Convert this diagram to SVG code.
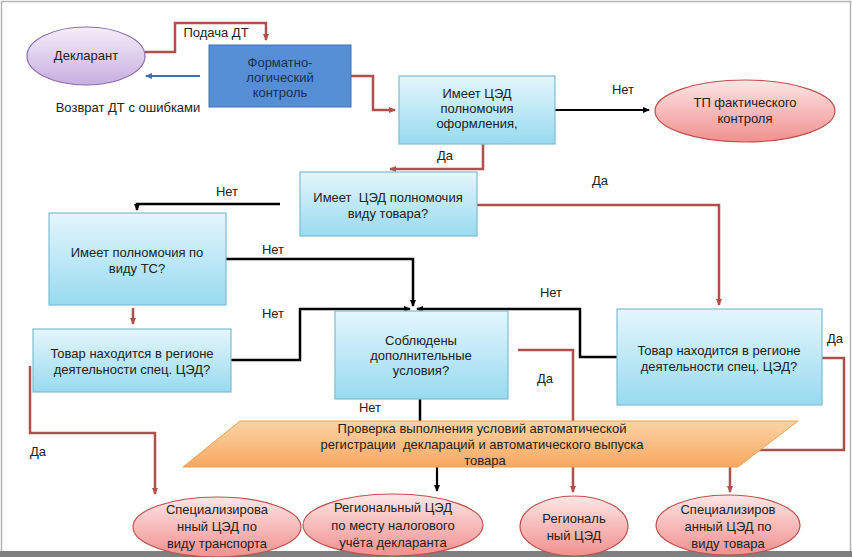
<svg xmlns="http://www.w3.org/2000/svg" width="852" height="557" viewBox="0 0 852 557">
<defs>
<linearGradient id="gBox" x1="0" y1="0" x2="0" y2="1"><stop offset="0" stop-color="#e4f6fc"/><stop offset="1" stop-color="#98daf0"/></linearGradient>
<linearGradient id="gPink" x1="0" y1="0" x2="0" y2="1"><stop offset="0" stop-color="#fde6e6"/><stop offset="1" stop-color="#f1908e"/></linearGradient>
<linearGradient id="gLav" x1="0" y1="0" x2="0" y2="1"><stop offset="0" stop-color="#f6eefa"/><stop offset="1" stop-color="#c7aee0"/></linearGradient>
<linearGradient id="gOr" x1="0" y1="0" x2="0" y2="1"><stop offset="0" stop-color="#fcd3a6"/><stop offset="1" stop-color="#f8a860"/></linearGradient>
<marker id="aR" markerWidth="8" markerHeight="8" refX="6" refY="4" orient="auto" markerUnits="userSpaceOnUse"><path d="M0,1 L7,4 L0,7 z" fill="#b0504c"/></marker>
<marker id="aK" markerWidth="8" markerHeight="8" refX="6" refY="4" orient="auto" markerUnits="userSpaceOnUse"><path d="M0,1 L7,4 L0,7 z" fill="#000"/></marker>
<marker id="aB" markerWidth="8" markerHeight="8" refX="6" refY="4" orient="auto" markerUnits="userSpaceOnUse"><path d="M0,1 L7,4 L0,7 z" fill="#3f6fb5"/></marker>
</defs>
<style>
text{font-family:"Liberation Sans",Arial,sans-serif;font-size:13px;fill:#222;text-anchor:middle;white-space:pre}
.box{fill:url(#gBox);stroke:#7dbdd2;stroke-width:1.2}
.pink{fill:url(#gPink);stroke:#c0504d;stroke-width:1.2}
.red{fill:none;stroke:#b0504c;stroke-width:2.5}
.blk{fill:none;stroke:#000;stroke-width:2.5}
.lbl{text-anchor:start}
</style>
<rect x="0" y="0" width="852" height="557" fill="#fff"/>
<rect x="1.5" y="1.5" width="849" height="552" fill="none" stroke="#b4b4b4" stroke-width="1.5"/>
<rect x="0" y="551" width="852" height="6" fill="#7f7f7f"/>

<g id="connectors">
<path class="red" d="M145,52 H175 V23 H266 V40" marker-end="url(#aR)"/>
<path d="M200,76 H146" fill="none" stroke="#3f6fb5" stroke-width="2" marker-end="url(#aB)"/>
<path class="red" d="M351,76 H373 V110 H395" marker-end="url(#aR)"/>
<path d="M555,110 H649" fill="none" stroke="#000" stroke-width="2.2" marker-end="url(#aK)"/>
<path class="red" d="M483,144 V169 H390" marker-end="url(#aR)"/>
<path class="red" d="M477,205 H719 V305" marker-end="url(#aR)"/>
<path class="blk" d="M280,204 H137 V210" marker-end="url(#aK)"/>
<path class="blk" d="M226,259 H413 V306" marker-end="url(#aK)"/>
<path class="red" d="M133,308 V324" marker-end="url(#aR)"/>
<path class="blk" d="M231,360 H300 V309 H410" marker-end="url(#aK)"/>
<path class="blk" d="M617,357 H580 V309 H417" marker-end="url(#aK)"/>
<path class="red" d="M822,358 H844 V450 H730 V492" marker-end="url(#aR)"/>
<path class="red" d="M518,350 H573 V492" marker-end="url(#aR)"/>
<path class="red" d="M30,366 V433 H155 V494" marker-end="url(#aR)"/>
<path class="blk" d="M420,399 V423"/>
<path d="M437,467 V491" fill="none" stroke="#000" stroke-width="2.2" marker-end="url(#aK)"/>
</g>

<g id="labels">
<text x="216" y="37">Подача ДТ</text>
<text x="128" y="112">Возврат ДТ с ошибками</text>
<text x="623" y="94">Нет</text>
<text x="445" y="160">Да</text>
<text x="600" y="185">Да</text>
<text x="227" y="196">Нет</text>
<text x="273" y="254">Нет</text>
<text x="273" y="318">Нет</text>
<text x="551" y="297">Нет</text>
<text x="545" y="383">Да</text>
<text x="835" y="343">Да</text>
<text x="370" y="412">Нет</text>
<text x="38" y="456">Да</text>
</g>

<g id="declarant">
<ellipse cx="86" cy="56" rx="59" ry="29" fill="url(#gLav)" stroke="#8b6fae" stroke-width="1.2"/>
<text x="86" y="60">Декларант</text>
</g>

<g id="flk">
<rect x="209" y="45" width="142" height="62" fill="#558ed5" stroke="#4472b0" stroke-width="1"/>
<text x="280" y="67" style="fill:#1c2f52">Форматно-</text>
<text x="280" y="82" style="fill:#1c2f52">логический</text>
<text x="280" y="97" style="fill:#1c2f52">контроль</text>
</g>

<g id="q1">
<rect class="box" x="399" y="76" width="156" height="68"/>
<text x="477" y="98">Имеет ЦЭД</text>
<text x="477" y="113">полномочия</text>
<text x="477" y="128">оформления,</text>
</g>

<g id="tp">
<ellipse class="pink" cx="745" cy="111" rx="90" ry="31"/>
<text x="745" y="107">ТП фактического</text>
<text x="745" y="123">контроля</text>
</g>

<g id="q2">
<rect class="box" x="300" y="172" width="177" height="64"/>
<text x="388" y="202">Имеет  ЦЭД полномочия</text>
<text x="388" y="218">виду товара?</text>
</g>

<g id="q3">
<rect class="box" x="49" y="213" width="177" height="92"/>
<text x="137" y="257">Имеет полномочия по</text>
<text x="137" y="273">виду ТС?</text>
</g>

<g id="q4">
<rect class="box" x="33" y="329" width="198" height="63"/>
<text x="132" y="358">Товар находится в регионе</text>
<text x="132" y="374">деятельности спец. ЦЭД?</text>
</g>

<g id="q5">
<rect class="box" x="335" y="311" width="173" height="88"/>
<text x="421" y="345">Соблюдены</text>
<text x="421" y="360">дополнительные</text>
<text x="421" y="375">условия?</text>
</g>

<g id="q6">
<rect class="box" x="617" y="309" width="205" height="96"/>
<text x="719" y="355">Товар находится в регионе</text>
<text x="719" y="371">деятельности спец. ЦЭД?</text>
</g>

<g id="check">
<polygon points="183,467 240,421 798,421 738,467" fill="url(#gOr)" stroke="#f0a050" stroke-width="1"/>
<text x="482" y="433">Проверка выполнения условий автоматической</text>
<text x="482" y="449">регистрации  деклараций и автоматического выпуска</text>
<text x="485" y="465">товара</text>
</g>

<g id="e1">
<ellipse class="pink" cx="217" cy="527" rx="84" ry="30"/>
<text x="217" y="514">Специализирова</text>
<text x="217" y="531">нный ЦЭД по</text>
<text x="217" y="548">виду транспорта</text>
</g>
<g id="e2">
<ellipse class="pink" cx="393" cy="525" rx="90" ry="31"/>
<text x="393" y="512">Региональный ЦЭД</text>
<text x="393" y="530">по месту налогового</text>
<text x="393" y="547">учёта декларанта</text>
</g>
<g id="e3">
<ellipse class="pink" cx="574" cy="526" rx="54" ry="30"/>
<text x="574" y="523">Региональ</text>
<text x="574" y="540">ный ЦЭД</text>
</g>
<g id="e4">
<ellipse class="pink" cx="728" cy="525" rx="72" ry="30"/>
<text x="728" y="514">Специализиров</text>
<text x="728" y="531">анный ЦЭД по</text>
<text x="728" y="548">виду товара</text>
</g>
</svg>
